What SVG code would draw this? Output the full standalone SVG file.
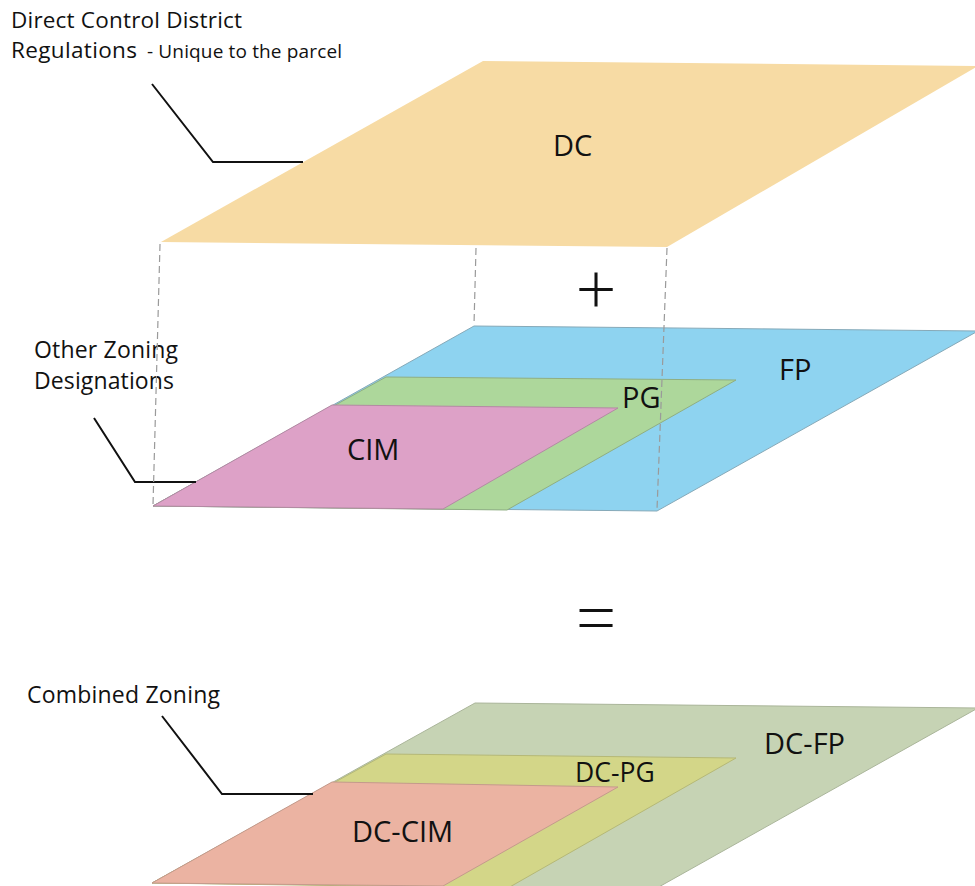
<svg xmlns="http://www.w3.org/2000/svg" width="975" height="886" viewBox="0 0 975 886">
<style>
text{font-family:"Open Sans","Noto Sans","Liberation Sans",sans-serif;fill:#111}
.lbl{font-size:22.5px}
.pl{font-size:29px}
.edge{stroke-width:1;stroke-linejoin:round}
.lead{fill:none;stroke:#111;stroke-width:2}
.dash{fill:none;stroke:#9a9a9a;stroke-width:1.2;stroke-dasharray:7 4}
.op{font-size:72px;font-weight:300}
</style>
<rect width="975" height="886" fill="#fff"/>
<g id="dc">
<polygon points="161,242 483,61 978,66 667,247" fill="#F7DBA4"/>
<text class="pl" x="553" y="156">DC</text>
</g>
<g id="layer-other">
<g id="fp">
<polygon class="edge" points="153,506 474,326 978,331 657,511" fill="#8ED3F0" stroke="#86a9b8"/>
<text class="pl" x="779" y="380">FP</text>
</g>
<g id="pg">
<polygon class="edge" points="153,506 386,377 736,380 507,510" fill="#ADD79B" stroke="#8fae82"/>
<text class="pl" x="622" y="408">PG</text>
</g>
<g id="cim">
<polygon class="edge" points="153,506 332,405 618,408 443,509" fill="#DDA1C7" stroke="#b38aa3"/>
<text class="pl" x="347" y="460">CIM</text>
</g>
</g>
<g id="layer-combined">
<g id="dc-fp">
<polygon class="edge" points="152,883 475,703 978,708 657,888" fill="#C6D3B4" stroke="#aab59a"/>
<text class="pl" x="764" y="754">DC-FP</text>
</g>
<g id="dc-pg">
<polygon class="edge" points="152,883 386,754 736,758 508,888" fill="#D3D688" stroke="#b5b876"/>
<text class="pl" x="575" y="782" style="font-size:26.5px">DC-PG</text>
</g>
<g id="dc-cim">
<polygon class="edge" points="152,883 332,782 618,787 443,886" fill="#EBB3A2" stroke="#c49a8c"/>
<text class="pl" x="352" y="842">DC-CIM</text>
</g>
</g>
<g id="operators">
<text class="op" x="596" y="315" text-anchor="middle">+</text>
<text class="op" x="596" y="644" text-anchor="middle">=</text>
</g>
<g id="labels">
<text class="lbl" x="11" y="28" textLength="231">Direct Control District</text>
<text class="lbl" x="11" y="58"><tspan textLength="126">Regulations</tspan><tspan x="147" style="font-size:19px" textLength="195">- Unique to the parcel</tspan></text>
<text class="lbl" x="34" y="358" style="font-size:23px" textLength="144">Other Zoning</text>
<text class="lbl" x="34" y="389" style="font-size:23px" textLength="140">Designations</text>
<text class="lbl" x="27" y="703" style="font-size:23px" textLength="193">Combined Zoning</text>
</g>
<g id="connectors">
<polyline class="lead" points="152,84 213,162 303,162"/>
<polyline class="lead" points="94,418 135,482 196,482"/>
<polyline class="lead" points="162,716 222,794 313,794"/>
<line class="dash" x1="160" y1="244" x2="153" y2="505"/>
<line class="dash" x1="476" y1="248" x2="474" y2="325"/>
<line class="dash" x1="667" y1="248" x2="657" y2="510"/>
</g>
</svg>
